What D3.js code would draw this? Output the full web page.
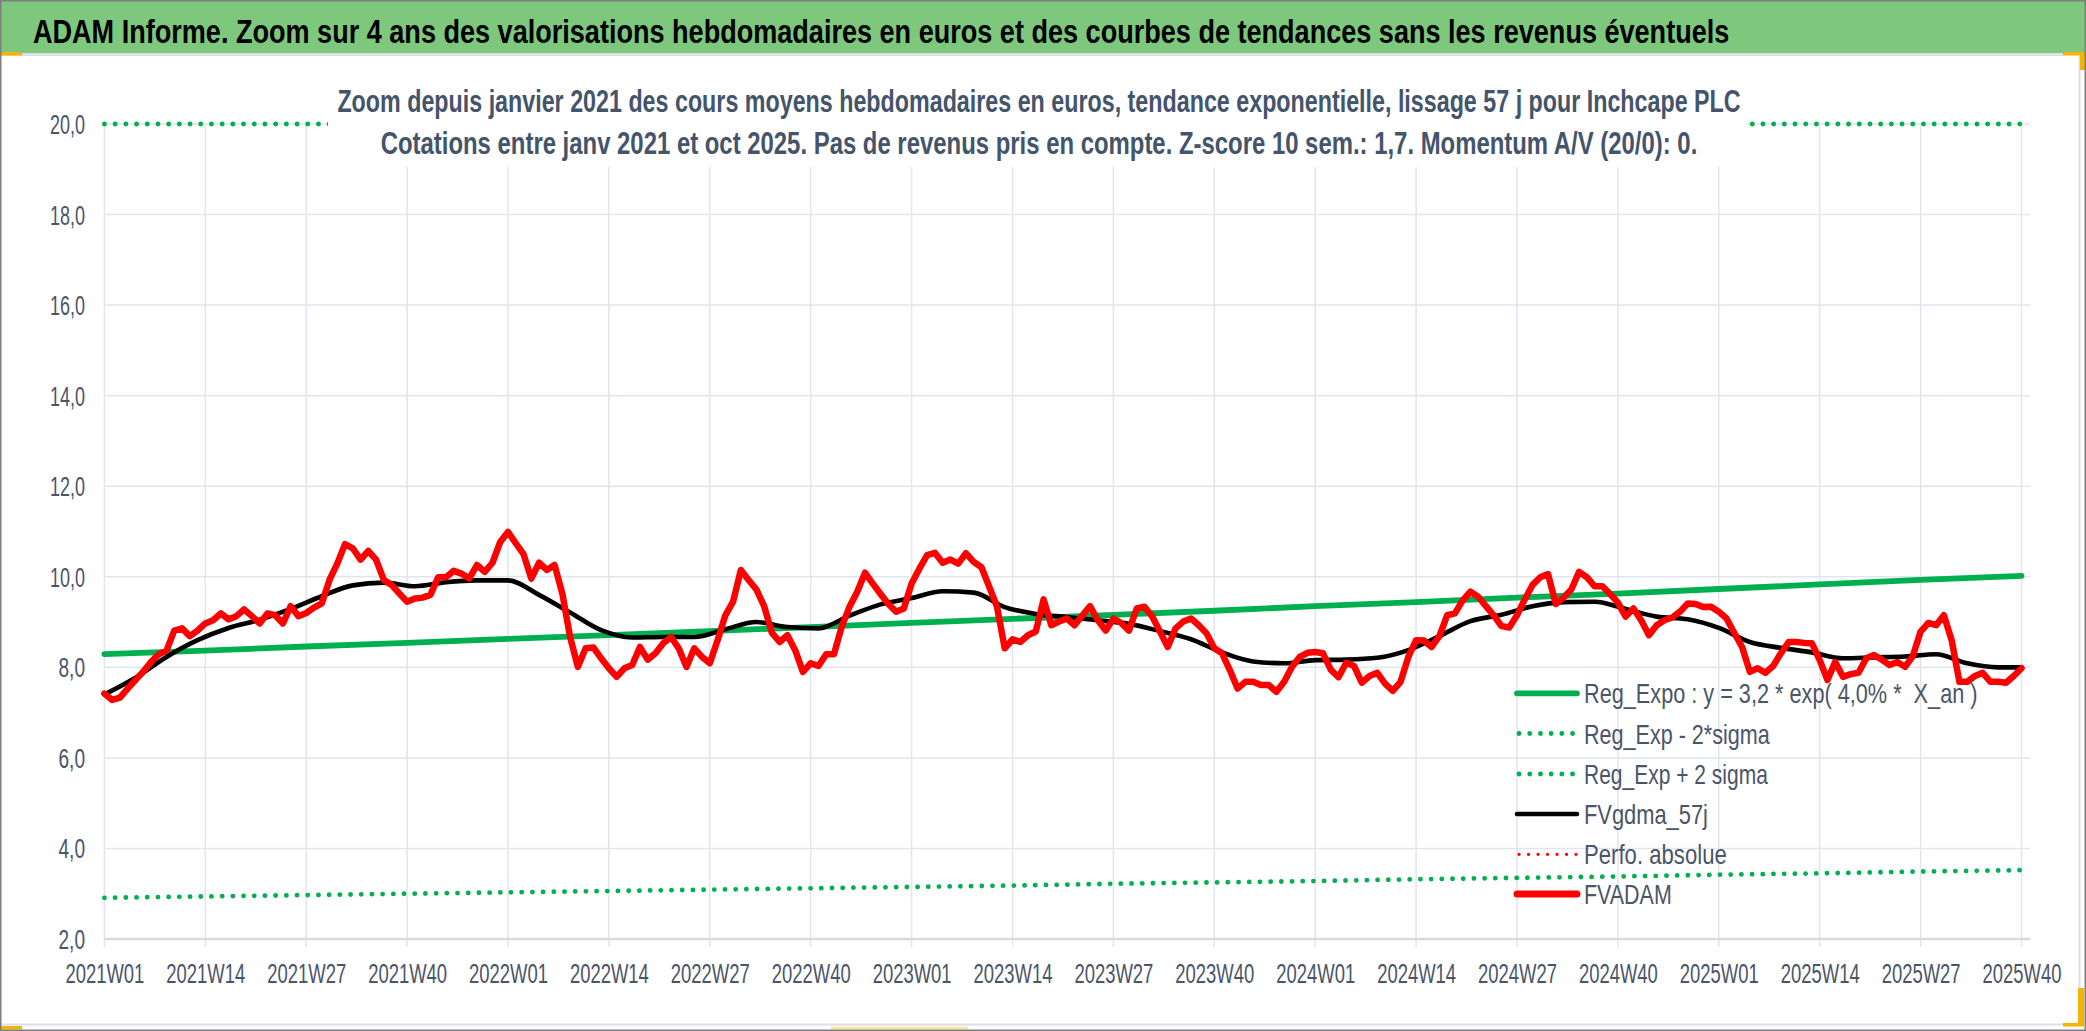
<!DOCTYPE html>
<html><head><meta charset="utf-8">
<script src="https://cdn.jsdelivr.net/npm/d3@7"></script>
<style>
html,body{margin:0;padding:0;background:#fff;overflow:hidden}
svg{display:block}
text{font-family:"Liberation Sans",Arial,sans-serif}
</style>
</head><body>
<svg id="c" width="2086" height="1031"></svg>
<script>
// ---------- DATA ----------
const years = [2021, 2022, 2023, 2024, 2025];
const weeks = [];
years.forEach(yr => { for (let w = 1; w <= 52; w++) weeks.push(yr + "W" + String(w).padStart(2, "0")); });
weeks.length = 248; // 2021W01 .. 2025W40

const tickWeeks = ["2021W01","2021W14","2021W27","2021W40","2022W01","2022W14","2022W27","2022W40",
  "2023W01","2023W14","2023W27","2023W40","2024W01","2024W14","2024W27","2024W40",
  "2025W01","2025W14","2025W27","2025W40"];
const yTicks = [2, 4, 6, 8, 10, 12, 14, 16, 18, 20];

// FVADAM weekly values (red)
const fvadam = [
  7.42,7.28,7.33,7.53,7.72,7.90,8.12,8.29,8.37,8.81,
  8.86,8.69,8.81,8.97,9.04,9.19,9.06,9.13,9.28,9.13,
  8.97,9.19,9.15,8.97,9.35,9.13,9.20,9.32,9.41,9.93,
  10.29,10.72,10.63,10.38,10.57,10.38,9.93,9.82,9.63,9.45,
  9.52,9.54,9.60,9.99,9.99,10.13,10.07,9.96,10.26,10.11,
  10.31,10.77,10.99,10.74,10.50,9.96,10.31,10.15,10.26,9.63,
  8.67,8.01,8.42,8.44,8.20,7.98,7.79,7.98,8.05,8.45,
  8.17,8.31,8.53,8.67,8.42,8.01,8.42,8.23,8.09,8.60,
  9.15,9.45,10.15,9.93,9.72,9.35,8.76,8.56,8.71,8.38,
  7.90,8.09,8.03,8.29,8.29,8.90,9.34,9.67,10.09,9.85,
  9.62,9.40,9.23,9.30,9.85,10.18,10.48,10.53,10.31,10.38,
  10.29,10.52,10.33,10.21,9.78,9.34,8.42,8.62,8.56,8.71,
  8.79,9.50,8.93,9.01,9.08,8.93,9.15,9.35,9.04,8.81,
  9.08,8.98,8.81,9.30,9.34,9.12,8.79,8.45,8.86,9.01,
  9.08,8.93,8.75,8.42,8.31,7.94,7.53,7.68,7.68,7.61,
  7.61,7.46,7.68,8.01,8.23,8.32,8.34,8.31,7.95,7.78,
  8.10,8.03,7.66,7.81,7.88,7.64,7.48,7.68,8.23,8.60,
  8.59,8.45,8.69,9.15,9.19,9.48,9.67,9.56,9.35,9.15,
  8.91,8.88,9.15,9.50,9.82,9.99,10.06,9.40,9.54,9.72,
  10.11,9.99,9.79,9.79,9.62,9.43,9.12,9.30,9.04,8.71,
  8.93,9.04,9.10,9.23,9.41,9.40,9.33,9.34,9.23,9.08,
  8.76,8.45,7.90,7.98,7.88,8.03,8.31,8.56,8.56,8.54,
  8.53,8.16,7.72,8.12,7.79,7.85,7.88,8.20,8.27,8.17,
  8.05,8.12,8.01,8.25,8.79,8.98,8.93,9.15,8.60,7.68,
  7.68,7.81,7.88,7.68,7.68,7.66,7.81,7.98
];

// FVgdma_57j (black), read every 4 weeks: [week index, value]
const gdma = [
  [0,7.40],[4,7.77],[8,8.23],[12,8.60],[16,8.87],[20,9.05],[24,9.29],[28,9.57],[32,9.81],[36,9.87],
  [40,9.79],[44,9.88],[48,9.92],[52,9.92],[56,9.60],[60,9.21],[64,8.82],[68,8.66],[72,8.67],[76,8.67],
  [80,8.84],[84,9.00],[88,8.89],[92,8.86],[96,9.14],[100,9.39],[104,9.53],[108,9.68],[112,9.65],[116,9.33],
  [120,9.18],[124,9.11],[128,9.04],[132,8.96],[136,8.80],[140,8.62],[144,8.33],[148,8.13],[152,8.09],[156,8.16],
  [160,8.17],[164,8.21],[168,8.38],[172,8.69],[176,9.02],[180,9.16],[184,9.35],[188,9.44],[192,9.45],[196,9.29],
  [200,9.12],[204,9.06],[208,8.87],[212,8.56],[216,8.43],[220,8.33],[224,8.20],[228,8.22],[232,8.24],[236,8.29],
  [240,8.09],[244,8.00],[247,8.00]
];

// Trend lines read at each labelled week
const regExpo  = [8.29,8.37,8.46,8.54,8.63,8.71,8.80,8.89,8.98,9.07,9.16,9.25,9.35,9.44,9.54,9.63,9.73,9.83,9.93,10.02];
const regMinus = [2.91,2.94,2.97,3.00,3.03,3.06,3.09,3.12,3.15,3.18,3.22,3.25,3.28,3.32,3.35,3.38,3.42,3.45,3.49,3.52];
const regPlus  = [20,20,20,20,20,20,20,20,20,20,20,20,20,20,20,20,20,20,20,20];

const titleText = "ADAM Informe. Zoom sur 4 ans des valorisations hebdomadaires en euros et des courbes de tendances sans les revenus éventuels";
const subTitle1 = "Zoom depuis janvier 2021 des cours moyens hebdomadaires en euros, tendance exponentielle, lissage 57 j pour Inchcape PLC";
const subTitle2 = "Cotations entre janv 2021 et oct 2025. Pas de revenus pris en compte. Z-score 10 sem.: 1,7. Momentum A/V (20/0): 0.";
const legendLabels = ["Reg_Expo : y = 3,2 * exp( 4,0% *  X_an )","Reg_Exp - 2*sigma","Reg_Exp + 2 sigma","FVgdma_57j","Perfo. absolue","FVADAM"];

// ---------- DRAW ----------
const svg = d3.select("#c");
const W = 2086, H = 1031;
const plotL = 104.4, plotR = 2030, lastTickX = 2021.5, plotT = 124, plotB = 939;

const x = d3.scalePoint().domain(weeks).range([plotL, lastTickX]);
const y = d3.scaleLinear().domain([2, 20]).range([plotB, plotT]);

const GRID = "#E1E5EC", LABEL = "#4B5568";

// condense a text horizontally to a target width (the reference uses a narrow face)
function squeeze(sel, width) {
  sel.each(function (d, i) {
    const t = d3.select(this);
    const w = typeof width === "function" ? width(d, i) : width;
    const nat = this.getComputedTextLength();
    const k = nat > 0 ? w / nat : 1;
    const tx = +t.attr("x") || 0, ty = +t.attr("y") || 0;
    t.attr("x", 0).attr("y", 0).attr("dy", 0)
      .attr("transform", `translate(${tx},${ty}) scale(${k},1)`);
  });
}

svg.append("rect").attr("width", W).attr("height", H).attr("fill", "#fff");

// title bar
svg.append("rect").attr("x",0).attr("y",0).attr("width",W).attr("height",53).attr("fill","#7DC87D");
svg.append("text").attr("x",33).attr("y",43).attr("font-size",34).attr("font-weight","bold")
  .attr("fill","#000").text(titleText).call(squeeze, 1697);
svg.append("rect").attr("x",0).attr("y",53).attr("width",2063).attr("height",3).attr("fill","#DCE0E6");

// chart-area borders
svg.append("line").attr("x1",2079.5).attr("x2",2079.5).attr("y1",56).attr("y2",1025).attr("stroke","#DCE0E6").attr("stroke-width",2);
svg.append("line").attr("x1",0).attr("x2",2079).attr("y1",1024.5).attr("y2",1024.5).attr("stroke","#DCE0E6").attr("stroke-width",2);

// grid
const g = svg.append("g");
g.selectAll(".hg").data(yTicks.filter(v => v > 2)).join("line")
  .attr("x1", plotL).attr("x2", plotR).attr("y1", d => y(d)).attr("y2", d => y(d))
  .attr("stroke", GRID).attr("stroke-width", 1.5);
g.selectAll(".vg").data(tickWeeks).join("line")
  .attr("x1", d => x(d)).attr("x2", d => x(d)).attr("y1", plotT).attr("y2", plotB + 8)
  .attr("stroke", GRID).attr("stroke-width", 1.5);
g.append("line").attr("x1", plotL).attr("x2", plotR).attr("y1", plotB).attr("y2", plotB)
  .attr("stroke", "#D9D9D9").attr("stroke-width", 2.5);

// x axis labels
const xAxis = d3.axisBottom(x).tickValues(tickWeeks).tickSize(0).tickPadding(0);
const xa = svg.append("g").attr("transform", `translate(0,${plotB})`).call(xAxis);
xa.select(".domain").remove();
xa.selectAll("text").attr("y", 44).attr("dy", 0).attr("font-size", 27).attr("fill", LABEL)
  .attr("font-family", '"Liberation Sans", Arial, sans-serif')
  .call(squeeze, 79);

// y axis labels
const yAxis = d3.axisLeft(y).tickValues(yTicks).tickSize(0).tickPadding(0)
  .tickFormat(d => d.toFixed(1).replace(".", ","));
const ya = svg.append("g").attr("transform", `translate(${plotL},0)`).call(yAxis);
ya.select(".domain").remove();
ya.selectAll("text").attr("x", -19.4).attr("dy", 0).attr("y", 9.5).attr("font-size", 27).attr("fill", LABEL)
  .attr("font-family", '"Liberation Sans", Arial, sans-serif')
  .call(squeeze, d => d >= 10 ? 35 : 26.5);

// series
const tickLine = d3.line().x((d, i) => x(tickWeeks[i])).y(d => y(d));
const DOT = { "stroke-width": 4.8, "stroke-dasharray": "0.1 10.6", "stroke-linecap": "round" };

function dotted(sel) { Object.entries(DOT).forEach(([k, v]) => sel.attr(k, v)); return sel; }

dotted(svg.append("path").attr("d", tickLine(regMinus)).attr("fill","none").attr("stroke","#00B050"));
dotted(svg.append("path").attr("d", tickLine(regPlus)).attr("fill","none").attr("stroke","#00B050"));
svg.append("path").attr("d", tickLine(regExpo)).attr("fill","none").attr("stroke","#00B050")
  .attr("stroke-width",5.8).attr("stroke-linecap","round");

const gLine = d3.line().x(d => x(weeks[d[0]])).y(d => y(d[1])).curve(d3.curveMonotoneX);
svg.append("path").attr("d", gLine(gdma)).attr("fill","none").attr("stroke","#000")
  .attr("stroke-width",4.6).attr("stroke-linecap","round");

const rLine = d3.line().x((d, i) => x(weeks[i])).y(d => y(d));
svg.append("path").attr("d", rLine(fvadam)).attr("fill","none").attr("stroke","#FF0000")
  .attr("stroke-width",6.5).attr("stroke-linejoin","round").attr("stroke-linecap","round");

// subtitle box
svg.append("rect").attr("x",328).attr("y",68).attr("width",1418).attr("height",99).attr("fill","#fff");
svg.append("text").attr("x",1039).attr("y",112).attr("text-anchor","middle").attr("font-size",32)
  .attr("font-weight","bold").attr("fill","#44546A").text(subTitle1).call(squeeze, 1404);
svg.append("text").attr("x",1039).attr("y",154).attr("text-anchor","middle").attr("font-size",32)
  .attr("font-weight","bold").attr("fill","#44546A").text(subTitle2).call(squeeze, 1317);

// legend
const legY = [693.3, 733.5, 774, 814, 854.3, 894];
const legW = [393.7, 185.8, 184, 124, 142.8, 87.8];
const legStyle = [
  {c:"#00B050", w:5.8, dash:null},
  {c:"#00B050", w:4.8, dash:"0.1 10.6"},
  {c:"#00B050", w:4.8, dash:"0.1 10.6"},
  {c:"#000000", w:4.6, dash:null},
  {c:"#FF0000", w:3.2, dash:"0.1 9.4"},
  {c:"#FF0000", w:7, dash:null}
];
const lg = svg.append("g");
legendLabels.forEach((lab, i) => {
  const st = legStyle[i];
  const ln = lg.append("line").attr("x1", st.dash ? 1519 : 1517).attr("x2", 1577)
    .attr("y1", legY[i]).attr("y2", legY[i]).attr("stroke", st.c).attr("stroke-width", st.w)
    .attr("stroke-linecap", "round");
  if (st.dash) ln.attr("stroke-dasharray", st.dash);
  lg.append("text").attr("x", 1584).attr("y", legY[i] + 10).attr("font-size", 28.5).attr("fill", LABEL)
    .style("white-space", "pre").text(lab).call(squeeze, legW[i]);
});

// selection handles / frame
const HANDLE = "#F4B400";
[[0,52,22,3.5],[2063,52,22,3.5],[2080,52,5,18],[0,1026,22,3.5],[2078,988,6,38],[2063,1023,21,3.5]]
  .forEach(r => svg.append("rect").attr("x",r[0]).attr("y",r[1]).attr("width",r[2]).attr("height",r[3]).attr("fill",HANDLE));
svg.append("rect").attr("x",831).attr("y",1026.5).attr("width",137).attr("height",3).attr("fill","#F7E7A6");
svg.append("rect").attr("x",0.75).attr("y",0.75).attr("width",W-1.5).attr("height",H-1.5)
  .attr("fill","none").attr("stroke","#7F7F7F").attr("stroke-width",1.5);
</script>
</body></html>
